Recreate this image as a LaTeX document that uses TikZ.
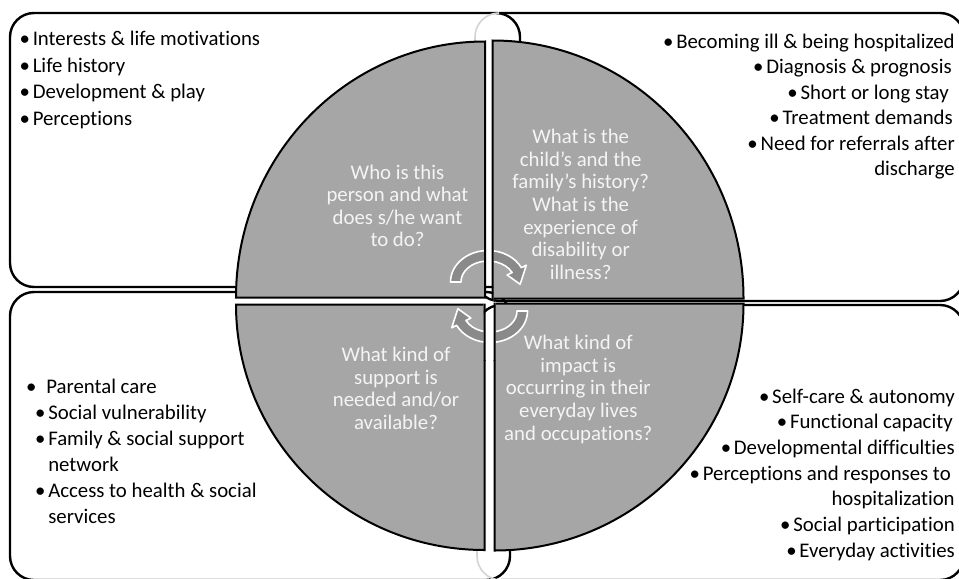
\documentclass[tikz,border=0pt]{standalone}
\usepackage{fontspec}
\setmainfont{Carlito}[Ligatures={NoCommon}]
\definecolor{quadgray}{HTML}{A6A6A6}
\definecolor{arrgray}{HTML}{8A8A8A}
\definecolor{qtext}{HTML}{F4F4F4}
\definecolor{faint}{HTML}{D4D4D4}
\tikzset{
 boxline/.style={draw=black, line width=1.8pt},
 boxfaint/.style={draw=faint, line width=1.2pt},
 quad/.style={fill=quadgray, draw=black, line width=1.5pt, line join=miter},
 arr/.style={fill=arrgray, draw=white, line width=1.2pt, line join=round},
 btxt/.style={font=\fontsize{15.6}{18}\selectfont, inner sep=0pt, text=black},
 qtxt/.style={font=\fontsize{15.6}{18}\selectfont, inner sep=0pt, text=qtext, anchor=base},
}
\newcommand\bul{\makebox[12pt][c]{•}}
\newcommand\myBoxes{%
 \draw[boxline, rounded corners=18pt] (10,13) rectangle (520,287);
 \draw[boxline, rounded corners=18pt] (10,292) rectangle (510,580);
 \draw[boxline, rounded corners=18pt] (499,13) -- (964,13) -- (964,301) -- (475,301) -- (475,60);
 \draw[boxfaint] (475,60) -- (475,37) arc[start angle=180,end angle=270,radius=24];
 \draw[boxline, rounded corners=18pt] (477,520) -- (477,305) -- (964,305) -- (964,580) -- (501,580);
 \draw[boxfaint] (477,520) -- (477,556) arc[start angle=180,end angle=90,radius=24];
}
\newcommand\myQuads{%
 \path[quad] (485,297.5) -- (485,41.5) arc[start angle=270,end angle=180,x radius=249,y radius=256] -- cycle;
 \path[quad] (492.5,298.5) -- (492.5,40.5) arc[start angle=270,end angle=360,x radius=251,y radius=258] -- cycle;
 \path[quad] (484.5,304.5) -- (236,304.5) arc[start angle=180,end angle=90,x radius=248.5,y radius=245.5] -- cycle;
 \path[quad] (494.5,303.5) -- (743.5,303.5) arc[start angle=0,end angle=90,x radius=249,y radius=247] -- cycle;
}
\newcommand\myArrow{%
 \path[arr] (180:37.5 and 31.5) arc[start angle=180,end angle=333,x radius=37.5,y radius=31.5]
   -- (333:43 and 37) -- (5:32.25 and 26.25) -- (333:21.5 and 15.5)
   -- (333:27 and 21) arc[start angle=333,end angle=180,x radius=27,y radius=21] -- cycle;
}
\begin{document}
\begin{tikzpicture}[x=0.75pt,y=-0.75pt]
\useasboundingbox (0,0) rectangle (959,578);
\clip (0,0) rectangle (959,578);
\fill[white] (0,0) rectangle (959,578);
\myBoxes
\myQuads
% quadrant texts
\foreach \t [count=\i] in {Who is this,person and what,does s/he want,to do?}
  \node[qtxt] (qa\i) at (397.5,{179.3+22.5*(\i-1)}) {\t};
\foreach \t [count=\i] in {What is the,child’s and the,family’s history?,What is the,experience of,disability or,illness?}
  \node[qtxt] (qb\i) at (580.7,{143.3+22.7*(\i-1)}) {\t};
\foreach \t [count=\i] in {What kind of,support is,needed and/or,available?}
  \node[qtxt] (qc\i) at (396,{361.7+22.5*(\i-1)}) {\t};
\foreach \t [count=\i] in {What kind of,impact is,occurring in their,everyday lives,and occupations?}
  \node[qtxt] (qd\i) at (578.3,{349.3+22.7*(\i-1)}) {\t};
% cycle arrows
\begin{scope}[shift={(488,282)}] \myArrow \end{scope}
\begin{scope}[shift={(490,311)},rotate=180] \myArrow \end{scope}
% gap redrawn over the arrows
\begin{scope}
 \clip (484,230) rectangle (493.5,301);
 \fill[white] (480,230) rectangle (500,301);
 \myBoxes \myQuads
\end{scope}
\begin{scope}
 \clip (483.5,301) rectangle (495.5,360);
 \fill[white] (480,301) rectangle (500,360);
 \myBoxes \myQuads
\end{scope}
% top-left box
\node[btxt, anchor=base west] (tl1) at (16.5,45.5) {\bul Interests \& life motivations};
\node[btxt, anchor=base west] (tl2) at (16.5,72) {\bul Life history};
\node[btxt, anchor=base west] (tl3) at (16.5,98.5) {\bul Development \& play};
\node[btxt, anchor=base west] (tl4) at (16.5,125) {\bul Perceptions};
% top-right box
\node[btxt, anchor=base east] (tr1) at (955,48) {\bul Becoming ill \& being hospitalized};
\node[btxt, anchor=base east] (tr2) at (952,73.5) {\bul Diagnosis \& prognosis};
\node[btxt, anchor=base east] (tr3) at (949,99) {\bul Short or long stay};
\node[btxt, anchor=base east] (tr4) at (953,124.5) {\bul Treatment demands};
\node[btxt, anchor=base east] (tr5) at (955,150) {\bul Need for referrals after};
\node[btxt, anchor=base east] (tr6) at (955,175.5) {discharge};
% bottom-left box
\node[btxt, anchor=base west] (bl1) at (23,393) {\bul\hspace{5.25pt}Parental care};
\node[btxt, anchor=base west] (bl2) at (32,419) {\bul Social vulnerability};
\node[btxt, anchor=base west] (bl3) at (32,445) {\bul Family \& social support};
\node[btxt, anchor=base west] (bl4) at (48,471) {network};
\node[btxt, anchor=base west] (bl5) at (32,497) {\bul Access to health \& social};
\node[btxt, anchor=base west] (bl6) at (48,523) {services};
% bottom-right box
\node[btxt, anchor=base east] (br1) at (955,403) {\bul Self-care \& autonomy};
\node[btxt, anchor=base east] (br2) at (953,428.7) {\bul Functional capacity};
\node[btxt, anchor=base east] (br3) at (955,454.4) {\bul Developmental difficulties};
\node[btxt, anchor=base east] (br4) at (951,480.1) {\bul Perceptions and responses to};
\node[btxt, anchor=base east] (br5) at (955,505.8) {hospitalization};
\node[btxt, anchor=base east] (br6) at (955,531.5) {\bul Social participation};
\node[btxt, anchor=base east] (br7) at (955,557.2) {\bul Everyday activities};
\end{tikzpicture}
\end{document}
